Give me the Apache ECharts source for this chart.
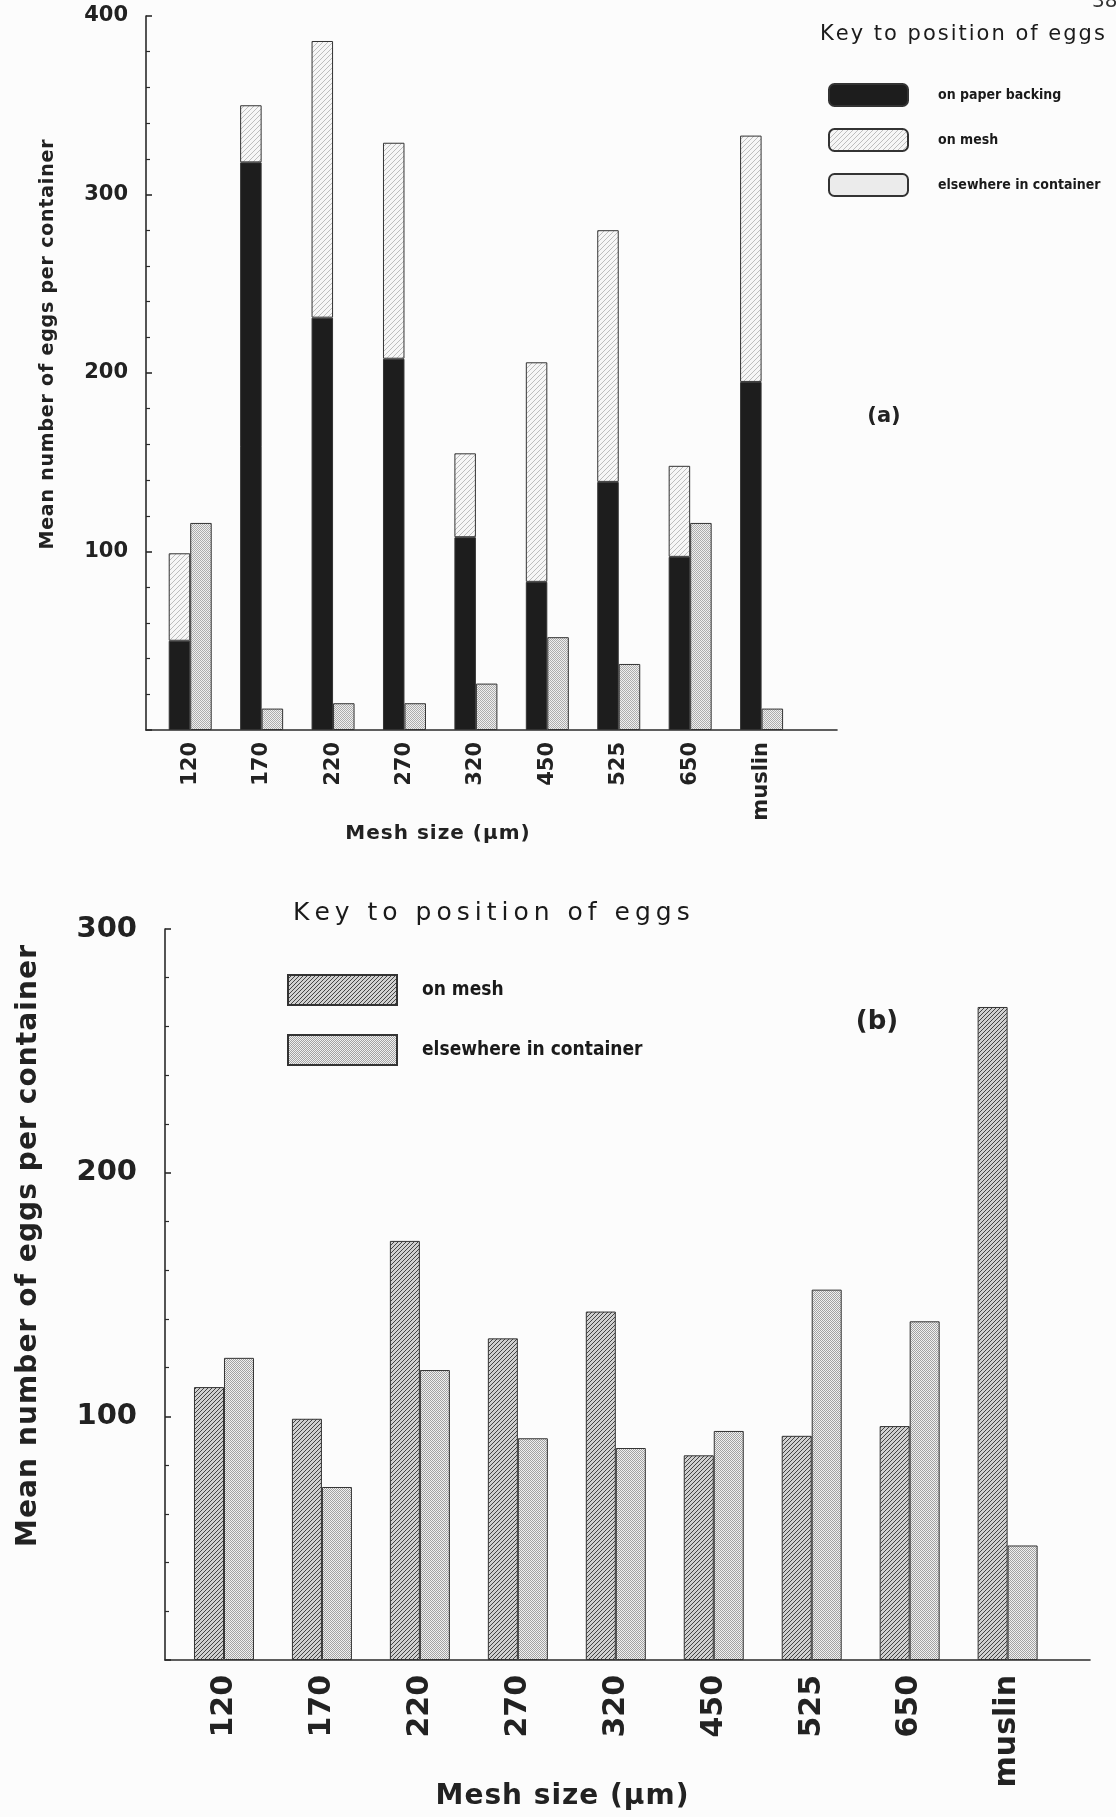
<!DOCTYPE html>
<html>
<head>
<meta charset="utf-8">
<script src="https://cdn.jsdelivr.net/npm/echarts@6/dist/echarts.min.js"></script>
<style>
  html, body { margin: 0; padding: 0; background: #fcfcfc; }
  #wrap { position: relative; width: 1116px; height: 1817px; overflow: hidden; }
  #chartA { position: absolute; left: 0; top: 0; width: 1116px; height: 860px; }
  #chartB { position: absolute; left: 0; top: 860px; width: 1116px; height: 957px; }
</style>
</head>
<body>
<div id="wrap"><div id="chartA"></div><div id="chartB"></div></div>
<script>
// Mesh sizes (µm) tested, plus muslin
const meshSizes = ['120', '170', '220', '270', '320', '450', '525', '650', 'muslin'];

// (a) mean eggs per container, by where they were laid
const paperA     = [50, 318, 231, 208, 108, 83, 139, 97, 195];
const meshA      = [49, 32, 155, 121, 47, 123, 141, 51, 138];
const elsewhereA = [116, 12, 15, 15, 26, 52, 37, 116, 12];

// (b) mean eggs per container, no paper backing
const meshB      = [112, 99, 172, 132, 143, 84, 92, 96, 268];
const elsewhereB = [124, 71, 119, 91, 87, 94, 152, 139, 47];

// value axis tick labels
const yTicksA = [0, 100, 200, 300, 400];
const yTicksB = [0, 100, 200, 300];

const legendA = ['on paper backing', 'on mesh', 'elsewhere in container'];
const legendB = ['on mesh', 'elsewhere in container'];

// Wide tracking for a few headings, keyed by text@size.
// Tracked strings are laid out glyph by glyph so the spacing never leaks
// into the canvas state used by other labels.
const tracking = {
  'Key to position of eggs@21px': 2,
  'Key to position of eggs@25px': 5,
  'Mean number of eggs per container@19px': 0.8,
  'Mean number of eggs per container@28px': 1.1,
  'Mesh size (μm)@20px': 1,
  'Mesh size (μm)@28px': 1
};
(function () {
  const origFill = CanvasRenderingContext2D.prototype.fillText;
  CanvasRenderingContext2D.prototype.fillText = function (text, x, y) {
    const m = /(\d+(?:\.\d+)?)px/.exec(this.font);
    const sp = m ? tracking[String(text) + '@' + m[1] + 'px'] : undefined;
    if (sp === undefined) return origFill.apply(this, arguments);
    const chars = Array.from(String(text));
    const widths = chars.map(c => this.measureText(c).width);
    const total = widths.reduce((a, b) => a + b, 0) + sp * (chars.length - 1);
    const align = this.textAlign;
    let cx = x;
    if (align === 'center') cx = x - total / 2;
    else if (align === 'right' || align === 'end') cx = x - total;
    this.textAlign = 'left';
    for (let i = 0; i < chars.length; i++) {
      origFill.call(this, chars[i], cx, y);
      cx += widths[i] + sp;
    }
    this.textAlign = align;
  };
})();

// Fill textures
function hatch(bg, line, step, lw) {
  const c = document.createElement('canvas');
  c.width = step; c.height = step;
  const g = c.getContext('2d');
  g.fillStyle = bg; g.fillRect(0, 0, step, step);
  g.strokeStyle = line; g.lineWidth = lw;
  g.beginPath();
  g.moveTo(-1, step + 1); g.lineTo(step + 1, -1);
  g.moveTo(-1, 1); g.lineTo(1, -1);
  g.moveTo(step - 1, step + 1); g.lineTo(step + 1, step - 1);
  g.stroke();
  return { image: c, repeat: 'repeat' };
}
function dots(bg, dot) {
  const c = document.createElement('canvas');
  c.width = 2; c.height = 2;
  const g = c.getContext('2d');
  g.fillStyle = bg; g.fillRect(0, 0, 2, 2);
  g.fillStyle = dot; g.fillRect(0, 0, 1, 1); g.fillRect(1, 1, 1, 1);
  return { image: c, repeat: 'repeat' };
}

const INK = '#222';
const NUM_FONT = "'DejaVu Sans', sans-serif";
const KEY_FONT = "'Liberation Sans Narrow', 'DejaVu Sans Condensed', 'Liberation Sans', sans-serif";
const axisLine = { color: '#2a2a2a', width: 1.6 };
const edge = { borderColor: '#333', borderWidth: 1 };

function frameAxes(cfg) {
  // grid 0: the axis frame with value ticks; grid 1: the category bands holding the bars
  return {
    grid: [
      { left: cfg.frameLeft, top: cfg.top, width: cfg.frameWidth, height: cfg.height },
      { left: cfg.barLeft, top: cfg.top, width: cfg.barWidth, height: cfg.height }
    ],
    xAxis: [
      { gridIndex: 0, type: 'value', min: 0, max: 1,
        axisLine: { show: true, lineStyle: axisLine }, axisTick: { show: false },
        axisLabel: { show: false }, splitLine: { show: false } },
      { gridIndex: 1, type: 'category', data: meshSizes,
        axisLine: { show: false }, axisTick: { show: false },
        axisLabel: { rotate: 90, margin: cfg.xMargin, fontSize: cfg.xFont, fontWeight: 'bold',
                     fontFamily: NUM_FONT, color: INK } }
    ],
    yAxis: [
      { gridIndex: 0, type: 'value', min: cfg.ticks[0], max: cfg.ticks[cfg.ticks.length - 1],
        interval: cfg.ticks[1] - cfg.ticks[0],
        axisLine: { show: true, lineStyle: axisLine },
        axisTick: { show: true, inside: true, length: 6, lineStyle: axisLine },
        minorTick: { show: true, splitNumber: 5, length: 4, lineStyle: { color: '#2a2a2a', width: 1.2 } },
        axisLabel: { showMinLabel: false, margin: cfg.yMargin, fontSize: cfg.yFont, fontWeight: 'bold',
                     fontFamily: NUM_FONT, color: INK },
        splitLine: { show: false } },
      { gridIndex: 1, type: 'value', min: cfg.ticks[0], max: cfg.ticks[cfg.ticks.length - 1], show: false }
    ]
  };
}

function label(x, y, text, size, weight, opts) {
  opts = opts || {};
  return {
    type: 'text', x: x, y: y, silent: true, rotation: opts.rotation || 0,
    style: { text: text, fill: opts.fill || INK, fontSize: size, fontWeight: weight, fontFamily: NUM_FONT,
             align: opts.align || 'center', verticalAlign: 'middle' }
  };
}

// ---------- (a) ----------
const chartA = echarts.init(document.getElementById('chartA'), null, { renderer: 'canvas' });
const barA = { type: 'bar', xAxisIndex: 1, yAxisIndex: 1, barWidth: 21.5, barGap: '0%' };
const meshFillA = hatch('#f6f6f6', '#bdbdbd', 5, 1);
chartA.setOption(Object.assign(frameAxes({
  frameLeft: 146, frameWidth: 691, barLeft: 154.5, barWidth: 642.8, top: 16, height: 714,
  ticks: yTicksA, xMargin: 12, xFont: 21, yMargin: 18, yFont: 21
}), {
  animation: false,
  legend: {
    left: 823, top: 78, orient: 'vertical', icon: 'roundRect', selectedMode: false,
    itemWidth: 79, itemHeight: 22, itemGap: 21,
    data: [
      { name: legendA[0] },
      { name: legendA[1] },
      { name: legendA[2], itemStyle: { color: '#ebebeb' } }
    ],
    textStyle: { fontFamily: KEY_FONT, fontWeight: 'bold', fontSize: 14, color: '#1a1a1a', padding: [0, 0, 0, 25] }
  },
  series: [
    Object.assign({ name: 'on paper backing', stack: 'a', data: paperA,
      itemStyle: Object.assign({ color: '#1d1d1d' }, edge) }, barA),
    Object.assign({ name: 'on mesh', stack: 'a', data: meshA,
      itemStyle: Object.assign({ color: meshFillA }, edge) }, barA),
    Object.assign({ name: 'elsewhere in container', data: elsewhereA,
      itemStyle: Object.assign({ color: dots('#efefef', '#acacac') }, edge) }, barA)
  ],
  graphic: [
    label(820, 35, 'Key to position of eggs', 21, 'normal', { align: 'left', fill: '#1a1a1a' }),
    label(1092, 2, '38', 20, 'normal', { align: 'left', fill: '#333' }),
    label(884, 417, '(a)', 21, 'bold'),
    label(437.5, 834, 'Mesh size (μm)', 20, 'bold'),
    label(48, 344.5, 'Mean number of eggs per container', 19, 'bold', { rotation: Math.PI / 2 })
  ]
}));

// ---------- (b) ----------
const chartB = echarts.init(document.getElementById('chartB'), null, { renderer: 'canvas' });
const barB = { type: 'bar', xAxisIndex: 1, yAxisIndex: 1, barWidth: 30, barGap: '0%' };
chartB.setOption(Object.assign(frameAxes({
  frameLeft: 165, frameWidth: 925, barLeft: 175, barWidth: 881.6, top: 69, height: 731,
  ticks: yTicksB, xMargin: 15, xFont: 30, yMargin: 28, yFont: 29
}), {
  animation: false,
  legend: {
    left: 282, top: 109, orient: 'vertical', icon: 'rect', selectedMode: false,
    itemWidth: 109, itemHeight: 30, itemGap: 28, data: legendB,
    textStyle: { fontFamily: KEY_FONT, fontWeight: 'bold', fontSize: 19, color: '#1a1a1a', padding: [0, 0, 0, 20] }
  },
  series: [
    Object.assign({ name: 'on mesh', data: meshB,
      itemStyle: Object.assign({ color: hatch('#d0d0d0', '#444', 4, 1) }, edge) }, barB),
    Object.assign({ name: 'elsewhere in container', data: elsewhereB,
      itemStyle: Object.assign({ color: dots('#f0f0f0', '#a2a2a2') }, edge) }, barB)
  ],
  graphic: [
    label(293, 53, 'Key to position of eggs', 25, 'normal', { align: 'left', fill: '#1a1a1a' }),
    label(877, 162, '(b)', 26, 'bold'),
    label(562, 937, 'Mesh size (μm)', 28, 'bold'),
    label(29, 386, 'Mean number of eggs per container', 28, 'bold', { rotation: Math.PI / 2 })
  ]
}));
</script>
</body>
</html>
